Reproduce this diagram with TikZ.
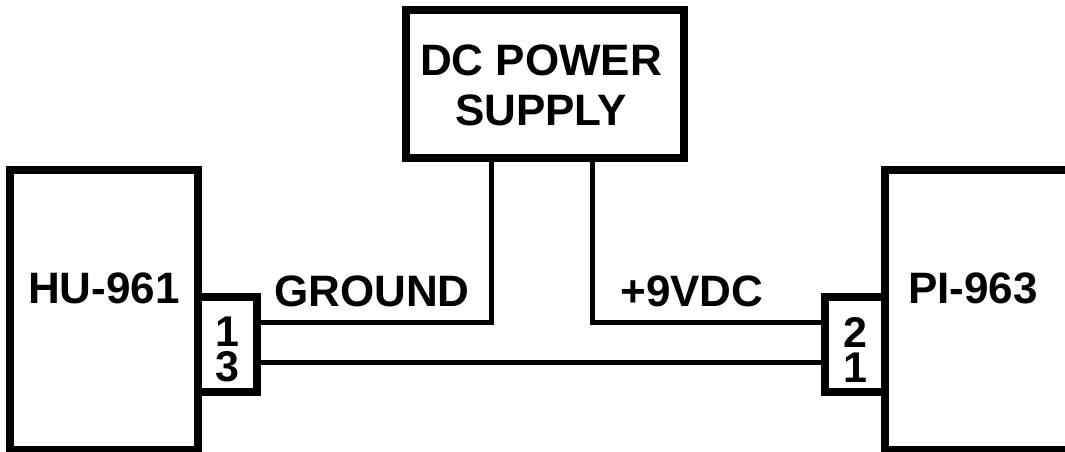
\documentclass[tikz,border=0pt]{standalone}
\usepackage{fontspec}
\setmainfont{Liberation Sans}
\usetikzlibrary{calc}
\begin{document}
\begin{tikzpicture}[x=1pt,y=-1pt,
  unit/.style={draw,line width=7.5pt,inner sep=0pt},
  wire/.style={line width=5pt},
  lbl/.style={anchor=base,inner sep=0pt,font=\fontsize{44}{50}\selectfont\bfseries},
  pin/.style={inner sep=0pt,align=center,font=\fontsize{43}{35}\selectfont\bfseries}]
\useasboundingbox (0,0) rectangle (1065,452);
% units
\node[unit,minimum width=188pt,minimum height=280pt] (hu) at (104,310) {};
\node[unit,minimum width=220pt,minimum height=280pt] (pi) at (995,310) {};
\node[unit,minimum width=278pt,minimum height=148pt] (psu) at (545,84) {};
% pin blocks
\node[unit,fill=white,minimum width=59pt,minimum height=95pt] (hupins) at (227.5,344.5) {};
\node[unit,fill=white,minimum width=60pt,minimum height=95pt] (pipins) at (855,344.5) {};
% wires
\coordinate (gnd) at (491,322);
\coordinate (vcc) at (592,322);
\coordinate (ret) at (0,362);
\draw[wire] (hupins.east |- gnd) -- (gnd) -- (gnd |- psu.south);
\draw[wire] (psu.south -| vcc) -- (vcc) -- (pipins.west |- vcc);
\draw[wire] (hupins.east |- ret) -- (pipins.west |- ret);
% labels
\node[lbl] (hulbl) at (104,303) {HU-961};
\node[lbl] (pilbl) at (973,303) {PI-963};
\node[lbl] (psulbla) at (541,75) {DC POWER};
\node[lbl] (psulblb) at (541,125) {SUPPLY};
\node[lbl] (gndlbl) at (372,306) {GROUND};
\node[lbl] (vcclbl) at (692,306) {+9VDC};
\node[pin] (hupinlbl) at (227,349.5) {1\\3};
\node[pin] (pipinlbl) at (855,349.5) {2\\1};
\end{tikzpicture}
\end{document}
